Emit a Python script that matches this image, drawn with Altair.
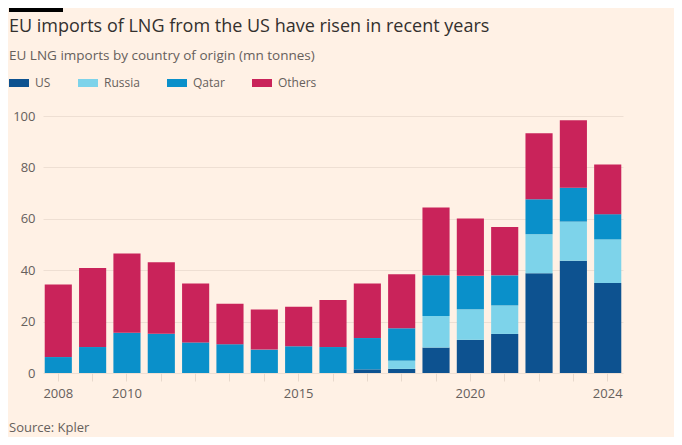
import altair as alt
import pandas as pd

years = list(range(2008, 2025))
us = [0, 0, 0, 0, 0, 0, 0, 0, 0, 1.4, 1.6, 9.9, 12.9, 15.2, 38.8, 43.7, 35.0]
russia = [0, 0, 0, 0, 0, 0, 0, 0, 0, 0, 3.2, 12.3, 11.9, 11.1, 15.2, 15.2, 17.0]
qatar = [6.2, 10.1, 15.7, 15.3, 11.9, 11.2, 9.1, 10.4, 10.1, 12.2, 12.6, 15.8, 13.0, 11.7, 13.6, 13.2, 9.8]
others = [28.2, 30.8, 30.8, 27.8, 22.9, 15.7, 15.6, 15.4, 18.3, 21.2, 21.0, 26.4, 22.3, 18.8, 25.7, 26.2, 19.3]

series = ["US", "Russia", "Qatar", "Others"]
colors = ["#0D5290", "#7DD3EA", "#0A90CA", "#C9235A"]
label_years = ["2008", "2010", "2015", "2020", "2024"]

rows = []
for name, vals in zip(series, [us, russia, qatar, others]):
    for y, v in zip(years, vals):
        rows.append({"year": str(y), "series": name, "value": v, "order": series.index(name)})
df = pd.DataFrame(rows)

label_test = " || ".join([f"datum.value == '{y}'" for y in label_years])

bars = alt.Chart(df).mark_bar().encode(
    x=alt.X("year:O", title=None,
            scale=alt.Scale(paddingInner=0.21, paddingOuter=0.05),
            axis=alt.Axis(labelAngle=0, labelExpr=f"({label_test}) ? datum.value : ''",
                          domain=False, ticks=True, tickSize=8, tickColor="#E8D9CC",
                          tickWidth=1, labelPadding=6, labelFontSize=13,
                          labelColor="#66605C", labelFont="Open Sans")),
    y=alt.Y("value:Q", title=None, stack="zero",
            scale=alt.Scale(domain=[0, 100], nice=False),
            axis=alt.Axis(values=[0, 20, 40, 60, 80, 100], domain=False, ticks=False,
                          gridColor="#EEDFD3", labelPadding=8, labelFontSize=13,
                          labelColor="#66605C", labelFont="Open Sans")),
    color=alt.Color("series:N", sort=series,
                    scale=alt.Scale(domain=series, range=colors),
                    legend=alt.Legend(title=None, orient="none", direction="horizontal",
                                      legendX=-34, legendY=-43,
                                      symbolType="M-1,-0.4H1V0.4H-1Z", symbolSize=400,
                                      symbolStrokeWidth=0, symbolOpacity=1,
                                      labelFontSize=12, labelColor="#66605C",
                                      labelFont="Open Sans", labelOffset=6,
                                      columnPadding=27)),
    order=alt.Order("order:Q", sort="ascending"),
)

topbar = alt.Chart(pd.DataFrame({"a": [0]})).mark_rule(color="#000000", strokeWidth=4).encode(
    x=alt.value(-34), x2=alt.value(20), y=alt.value(-106)
)

source = alt.Chart(pd.DataFrame({"t": ["Source: Kpler"]})).mark_text(
    align="left", baseline="alphabetic", fontSize=13, color="#66605C", font="Open Sans"
).encode(x=alt.value(-34), y=alt.value(316), text="t:N")

chart = alt.layer(bars, topbar, source).properties(
    width=580, height=257,
    autosize=alt.AutoSizeParams(type="none"),
    padding={"left": 35, "top": 108, "right": 51, "bottom": 64},
    background="#FFF1E5",
    title=alt.TitleParams(
        "EU imports of LNG from the US have risen in recent years",
        subtitle="EU LNG imports by country of origin (mn tonnes)",
        anchor="start", frame="group", dx=-34, offset=-54,
        fontSize=18, font="Open Sans", fontWeight="normal", color="#33302E",
        subtitleFontSize=13.5, subtitleFont="Open Sans", subtitleColor="#66605C",
        subtitlePadding=13,
    ),
).configure_view(stroke=None)

chart.save("out.html", embed_options={"renderer": "svg", "actions": False})
